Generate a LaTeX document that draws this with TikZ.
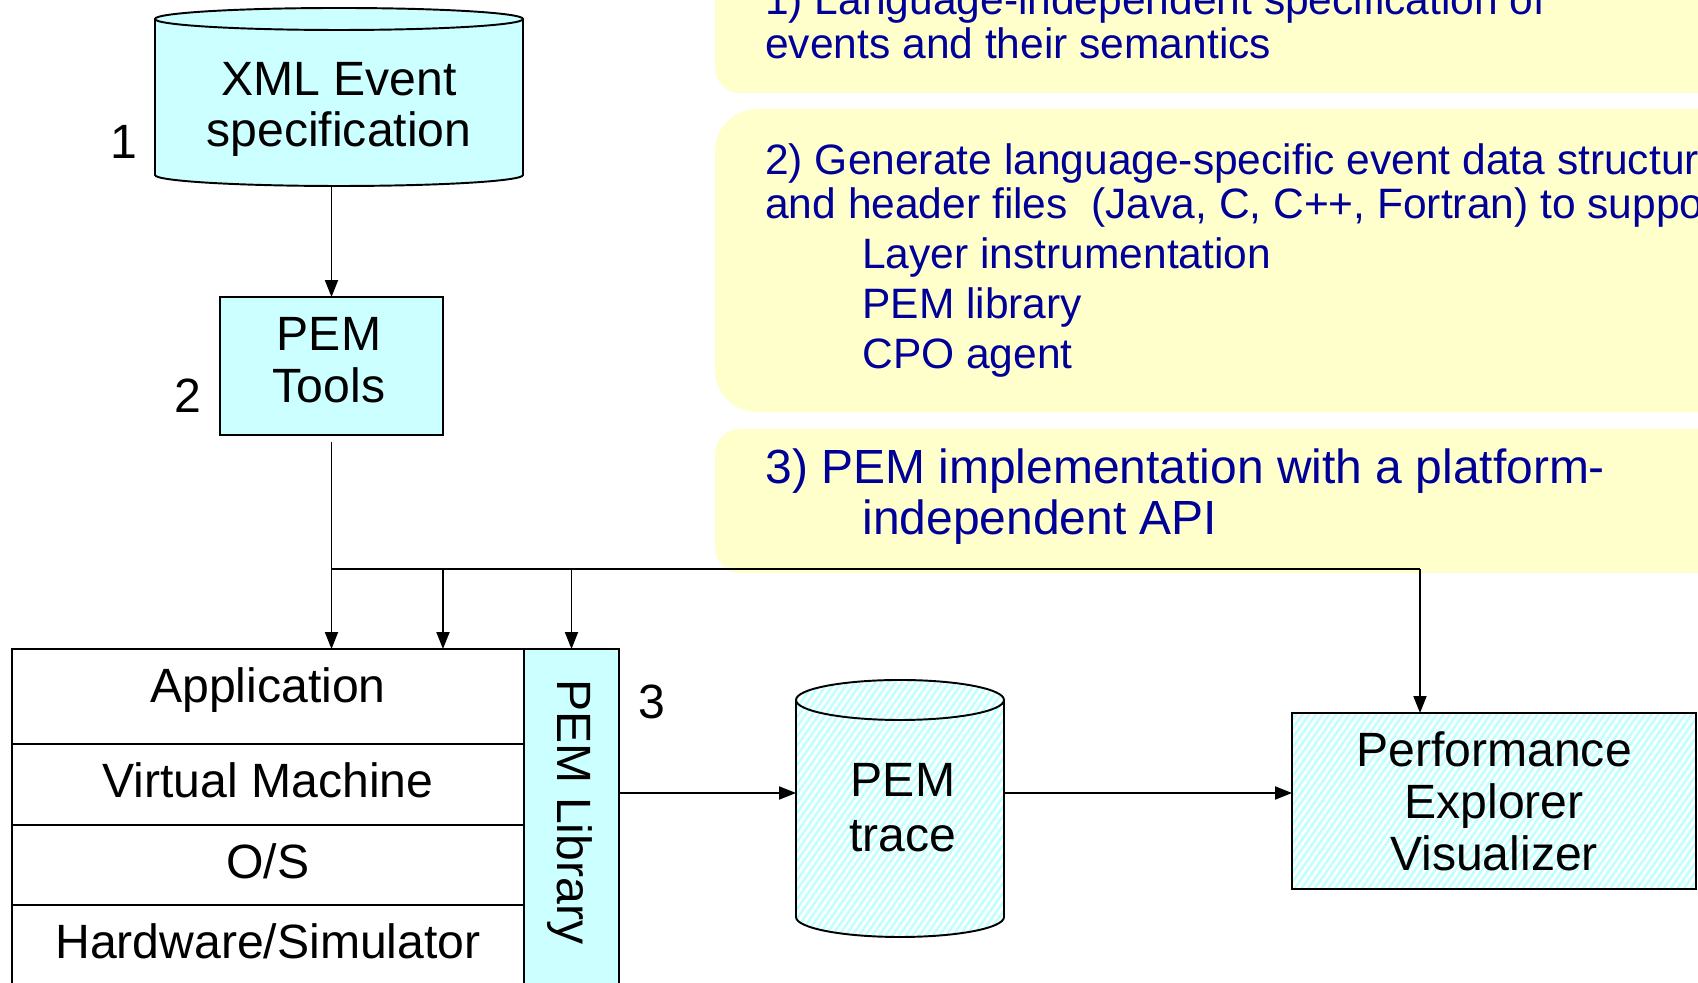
\documentclass[tikz,border=0pt]{standalone}
\usepackage{fontspec}
\setmainfont{Liberation Sans}
\usepackage{tikz}
\usetikzlibrary{arrows.meta,calc,positioning,patterns.meta}
\definecolor{pemcyan}{RGB}{204,255,255}
\definecolor{pemhatch}{RGB}{190,255,255}
\definecolor{pemyellow}{RGB}{255,255,204}
\definecolor{pemblue}{RGB}{0,0,153}

\begin{document}
\begin{tikzpicture}[x=0.02cm,y=0.02cm,
    lbl/.style={font=\fontsize{27.4}{29.5}\selectfont,inner sep=0pt},
    note/.style={font=\fontsize{24.2}{26}\selectfont,text=pemblue,inner sep=0pt,anchor=base west},
    bignote/.style={note,font=\fontsize{27.3}{29}\selectfont},
    region/.style={inner sep=0pt,outer sep=0pt},
    shell/.style={draw,line width=1.1pt},
    layer/.style={shell,region,minimum width=10.24cm,text height=0.68cm,text depth=0.14cm,font=\fontsize{27.4}{29.5}\selectfont},
    hatched/.style={preaction={fill=white},pattern={Lines[angle=55,distance=0.11cm,line width=0.05cm]},pattern color=pemhatch},
    flow/.style={line width=1.1pt,-{Triangle[length=0.34cm,width=0.26cm]}}]
    \useasboundingbox (0,0) rectangle (1698,983);
    \clip (0,0) rectangle (1698,983);

    % yellow notes
    \fill[pemyellow,rounded corners=0.5cm] (715,890) rectangle (1760,1043);
    \fill[pemyellow,rounded corners=0.84cm] (715,571) rectangle (1760,874);
    \fill[pemyellow,rounded corners=0.5cm] (715,410) rectangle (1760,554);
    \node[note] (n1a) at (765,968.5) {1) Language-independent specification of};
    \node[note] (n1b) at (765,924.5) {events and their semantics};
    \node[note] (n2a) at (765,808.5) {2) Generate language-specific event data structures};
    \node[note] (n2b) at (765,764.5) {and header files\ \ (Java, C, C++, Fortran) to support};
    \foreach \t [count=\i] in {Layer instrumentation,PEM library,CPO agent}
        \node[note] (item\i) at (862,764-50*\i) {\t};
    \node[bignote] (n3a) at (765,499.5) {3) PEM implementation with a platform-};
    \node[bignote] (n3b) at (862,448.5) {independent API};

    % XML event specification
    \node[region,minimum width=7.36cm,minimum height=3.56cm] (xml) at (339,886) {};
    \filldraw[shell,fill=pemcyan] (155,964) -- (155,808) arc[start angle=180,end angle=360,x radius=184,y radius=11]
        -- (523,964) arc[start angle=0,end angle=180,x radius=184,y radius=11] -- cycle;
    \draw[shell] (155,964) arc[start angle=180,end angle=360,x radius=184,y radius=11];
    \node[lbl,align=center] (xmltext) at (339,873.5) {XML Event\\specification};
    \node[lbl] (one) at (124,841.5) {1};

    % PEM tools
    \node[shell,region,fill=pemcyan,minimum width=4.46cm,minimum height=2.76cm] (tools) at (331.5,617) {};
    \node[lbl,align=center] (toolstext) at (329,623) {PEM\\Tools};
    \node[lbl] (two) at (188,587) {2};

    % software stack
    \node[layer,minimum height=1.9cm,text depth=0.44cm] (app) at (268,286.5) {Application};
    \node[layer,minimum height=1.62cm] (vm) at (268,198.5) {Virtual Machine};
    \node[layer,minimum height=1.6cm] (os) at (268,118) {O/S};
    \node[layer,minimum height=1.6cm] (hw) at (268,38) {Hardware/Simulator};
    \node[shell,region,fill=pemcyan,minimum width=1.9cm,minimum height=6.88cm] (lib) at (571.5,162) {};
    \node[lbl,rotate=-90,anchor=base] (libtext) at (557,171) {PEM Library};
    \node[lbl] (three) at (652,281) {3};

    % PEM trace
    \node[region,minimum width=4.16cm,minimum height=5.14cm] (trace) at (900,174.5) {};
    \filldraw[shell,hatched] (796,283) -- (796,66) arc[start angle=180,end angle=360,x radius=104,y radius=20]
        -- (1004,283) arc[start angle=0,end angle=180,x radius=104,y radius=20] -- cycle;
    \draw[shell] (796,283) arc[start angle=180,end angle=360,x radius=104,y radius=20];
    \node[lbl,align=center] (tracetext) at (903,175.4) {PEM\\[1.8pt]trace};

    % visualizer
    \node[shell,region,hatched,minimum width=8.08cm,minimum height=3.52cm] (pev) at (1494,182) {};
    \node[lbl,align=center] (pevtext) at (1494,182) {Performance\\Explorer\\Visualizer};

    % connectors
    \coordinate (bus) at (0,414);
    \coordinate (busend) at (1420,414);
    \coordinate (trail) at (0,190);
    \draw[flow] (xml.south -| tools.north) -- (tools.north);
    \draw[flow] ([yshift=-0.14cm]tools.south) -- (tools.south |- app.north);
    \draw[line width=1.1pt] (tools.south |- bus) -- (busend);
    \draw[flow] (tools.south east |- bus) -- (tools.south east |- app.north);
    \draw[flow] (lib.north |- bus) -- (lib.north);
    \draw[flow] (busend) -- (busend |- pev.north);
    \draw[flow] (lib.east |- trail) -- (trace.west |- trail);
    \draw[flow] (trace.east |- trail) -- (pev.west |- trail);
\end{tikzpicture}
\end{document}
